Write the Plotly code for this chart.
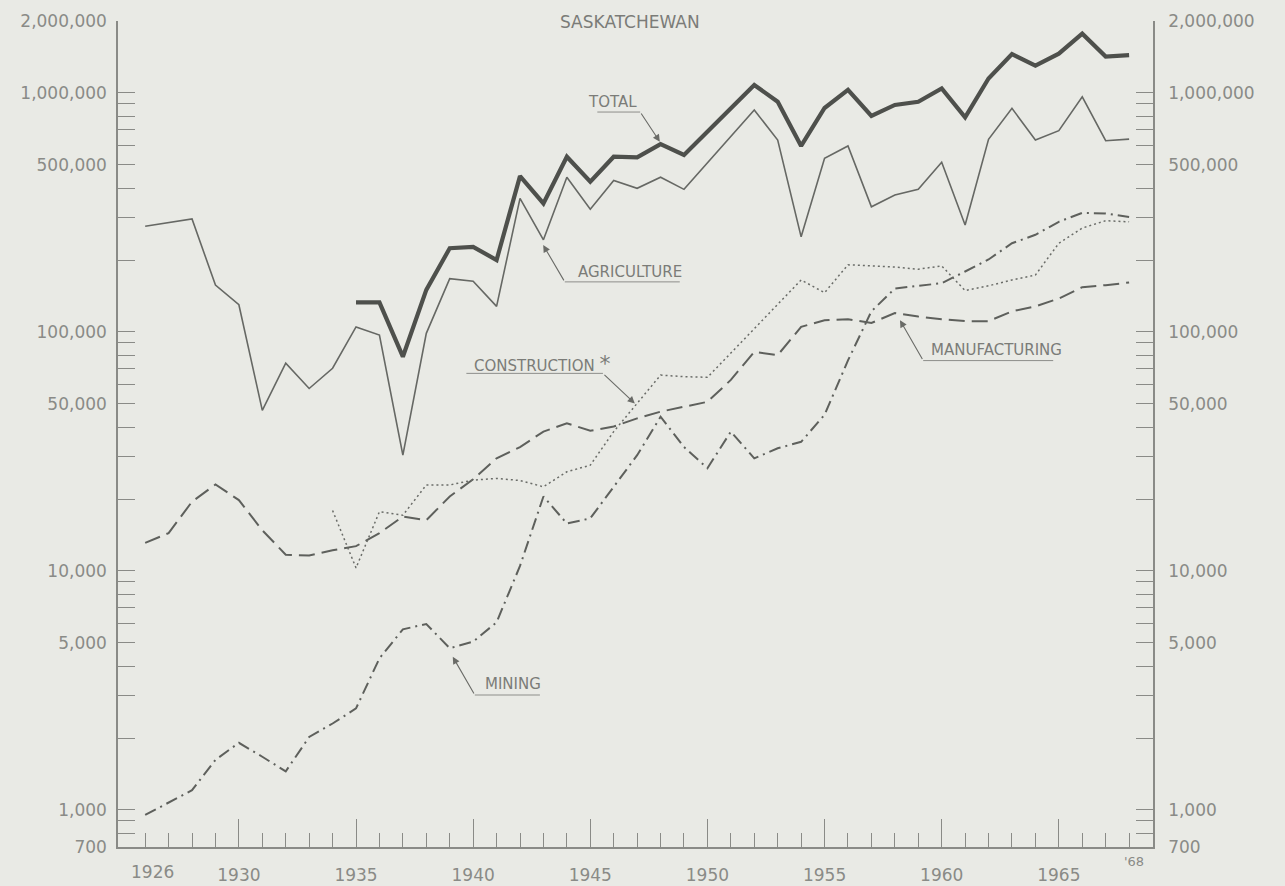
import math
import plotly.graph_objects as go

# ---------------- data ----------------
years = list(range(1926, 1969))
total_years = list(range(1935, 1969))
construction_years = list(range(1934, 1969))

agriculture = [277000, 286000, 297000, 157000, 130000, 47000, 74000, 58000, 70500, 105000,
               97000, 30500, 98700, 167000, 163000, 128000, 362000, 243000, 444000, 326000,
               430000, 399000, 444000, 395000, 511000, 660000, 849000, 635000, 250000, 533000,
               600000, 334000, 374000, 395000, 513000, 280000, 640000, 862000, 635000, 695000,
               964000, 631000, 641000]

total = [133000, 133000, 78800, 150000, 224000, 227000, 200000, 449000, 345000, 541000,
         425000, 541000, 538000, 611000, 550000, 691000, 865000, 1080000, 919000, 600000,
         865000, 1030000, 801000, 891000, 919000, 1045000, 791000, 1150000, 1455000, 1300000,
         1460000, 1770000, 1420000, 1440000]

manufacturing = [13100, 14400, 19500, 23000, 19800, 14800, 11700, 11600, 12200, 12700,
                 14400, 16900, 16300, 20500, 24200, 29600, 33000, 38300, 41500, 38600,
                 40200, 43500, 46400, 48600, 51000, 63000, 82600, 80000, 105000, 112000,
                 113000, 109000, 120000, 116000, 113000, 111000, 111000, 122000, 128000, 138000,
                 154000, 157000, 161000]

mining = [953, 1070, 1210, 1620, 1910, 1670, 1450, 2020, 2300, 2660,
          4310, 5700, 6000, 4750, 5060, 6100, 10500, 20500, 15800, 16600,
          22500, 30500, 44200, 33000, 26900, 38300, 29600, 32600, 34700, 45000,
          76000, 122000, 152000, 156000, 160000, 179000, 201000, 235000, 255000, 289000,
          315000, 313000, 303000]

construction = [17900, 10300, 17700, 17100, 22900, 22900, 24000, 24400, 23900, 22500,
                26000, 27700, 38300, 50300, 66000, 65000, 64600, 81600, 103000, 130000,
                165000, 146000, 191000, 189000, 187000, 183000, 189000, 149000, 156000, 165000,
                173000, 235000, 272000, 292000, 289000]

y_major_vals = [700, 1000, 5000, 10000, 50000, 100000, 500000, 1000000, 2000000]
y_major_text = ["700", "1,000", "5,000", "10,000", "50,000", "100,000", "500,000",
                "1,000,000", "2,000,000"]
y_minor_vals = [800, 900, 2000, 3000, 4000, 6000, 7000, 8000, 9000,
                20000, 30000, 40000, 60000, 70000, 80000, 90000,
                200000, 300000, 400000, 600000, 700000, 800000, 900000]
x_major_vals = [1930, 1935, 1940, 1945, 1950, 1955, 1960, 1965]
x_major_text = [str(v) for v in x_major_vals]
x_minor_vals = years

# ---------------- styling ----------------
BG = "#e9eae5"
AX = "#8a8b87"
LBL = "#8a8b87"
TXT = "#7b7c78"
LINE = "#5e605c"
FONT = "DejaVu Sans"

fig = go.Figure()

fig.add_trace(go.Scatter(x=years, y=agriculture, mode="lines", name="Agriculture",
                         line=dict(color="#666864", width=1.6), hoverinfo="skip"))
fig.add_trace(go.Scatter(x=total_years, y=total, mode="lines", name="Total",
                         line=dict(color="#4e504c", width=4.2), hoverinfo="skip"))
fig.add_trace(go.Scatter(x=years, y=manufacturing, mode="lines", name="Manufacturing",
                         line=dict(color=LINE, width=2, dash="16px,7px"), hoverinfo="skip"))
fig.add_trace(go.Scatter(x=years, y=mining, mode="lines", name="Mining",
                         line=dict(color=LINE, width=2, dash="12px,5px,2px,5px"), hoverinfo="skip"))
fig.add_trace(go.Scatter(x=construction_years, y=construction, mode="lines", name="Construction",
                         line=dict(color="#6a6c68", width=1.5, dash="2px,3px"), hoverinfo="skip"))
# invisible trace so the right-hand axis is drawn
fig.add_trace(go.Scatter(x=[years[0]], y=[agriculture[0]], yaxis="y2", mode="markers",
                         marker=dict(opacity=0), hoverinfo="skip", showlegend=False))

# ---------------- labels with leader lines ----------------
labels = [
    # text, text_x, text_y, underline x0, x1, underline y, arrow tip x, tip y, leader from right end
    ("TOTAL", 1945.94, 916000, 1945.3, 1947.13, 832000, 1947.97, 625000, True),
    ("AGRICULTURE", 1946.69, 178000, 1943.91, 1948.82, 162000, 1942.99, 231000, False),
    ("MANUFACTURING", 1962.35, 84000, 1959.21, 1964.76, 75900, 1958.22, 112000, False),
    ("MINING", 1941.7, 3365, 1940.07, 1942.85, 3027, 1939.13, 4375, False),
    ("CONSTRUCTION <span style='font-size:22px'>*</span>", 1942.92, 73500,
     1939.71, 1945.54, 67100, 1946.9, 50200, True),
]
for text, tx, ty, ux0, ux1, uy, ax_, ay_, from_right in labels:
    fig.add_annotation(x=tx, y=math.log10(ty), text=text, showarrow=False,
                       font=dict(family=FONT, size=15, color=TXT), xref="x", yref="y")
    fig.add_trace(go.Scatter(x=[ux0, ux1], y=[uy, uy], mode="lines",
                             line=dict(color="#8d8e8a", width=1), hoverinfo="skip",
                             showlegend=False))
    start_x = ux1 if from_right else ux0
    fig.add_annotation(x=ax_, y=math.log10(ay_), ax=start_x, ay=math.log10(uy),
                       axref="x", ayref="y", xref="x", yref="y", text="",
                       showarrow=True, arrowhead=2, arrowsize=1.3, arrowwidth=1.1,
                       arrowcolor="#6a6b67")

fig.add_annotation(x=0.495, y=0.999, xref="paper", yref="paper", text="SASKATCHEWAN",
                   showarrow=False, font=dict(family=FONT, size=17, color=TXT),
                   xanchor="center", yanchor="middle")
# end-of-axis year labels
fig.add_annotation(x=1926.3, y=0, xref="x", yref="paper", yshift=-25, yanchor="middle",
                   text="1926", showarrow=False, font=dict(family=FONT, size=17, color=LBL))
fig.add_annotation(x=1968.2, y=0, xref="x", yref="paper", yshift=-14, yanchor="middle",
                   text="'68", showarrow=False, font=dict(family=FONT, size=13, color=LBL))

yax = dict(type="log", range=[math.log10(700), math.log10(2000000)],
           tickmode="array", tickvals=y_major_vals, ticktext=y_major_text,
           ticks="inside", ticklen=17, tickwidth=1.3, tickcolor=AX, automargin=False,
           showline=True, linecolor=AX, linewidth=1.5, showgrid=False, zeroline=False,
           tickfont=dict(family=FONT, size=17, color=LBL),
           minor=dict(tickmode="array", tickvals=y_minor_vals, ticks="inside",
                      ticklen=17, tickwidth=1.2, tickcolor=AX, showgrid=False))

fig.update_layout(
    width=1285, height=886,
    margin=dict(l=118, r=132, t=21, b=39, autoexpand=False),
    paper_bgcolor=BG, plot_bgcolor=BG,
    showlegend=False,
    xaxis=dict(range=[1924.84, 1969.02], tickmode="array", tickvals=x_major_vals,
               ticktext=x_major_text, ticks="inside", ticklen=28, tickwidth=1.3,
               tickcolor=AX, showline=True, linecolor=AX, linewidth=1.5, automargin=False,
               showgrid=False, zeroline=False, ticklabelstandoff=12,
               tickfont=dict(family=FONT, size=17, color=LBL),
               minor=dict(tickmode="array", tickvals=x_minor_vals, ticks="inside",
                          ticklen=14, tickwidth=1.2, tickcolor=AX, showgrid=False)),
    yaxis=dict(**yax, side="left", ticklabelstandoff=6),
    yaxis2=dict(**yax, side="right", overlaying="y", anchor="x", ticklabelstandoff=10),
)

fig.write_html("out.html", config={"displayModeBar": False},
               post_script="document.body.style.margin='0';"
                           "document.body.style.background='" + BG + "';")
